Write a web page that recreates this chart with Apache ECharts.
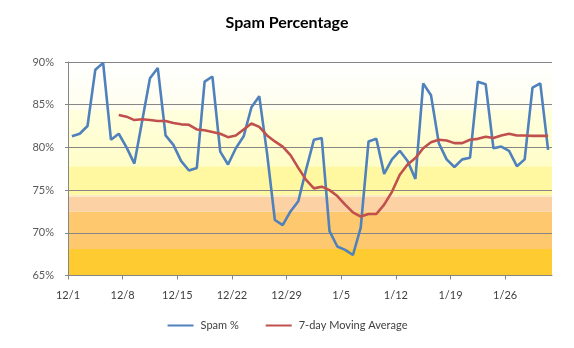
<!DOCTYPE html>
<html>
<head>
<meta charset="utf-8">
<script src="https://cdn.jsdelivr.net/npm/echarts@6/dist/echarts.min.js"></script>
<style>
html,body{margin:0;padding:0;background:#fff;}
#chart{width:574px;height:348px;}
</style>
</head>
<body>
<div id="chart"></div>
<script>
const dates = ['12/1','12/2','12/3','12/4','12/5','12/6','12/7','12/8','12/9','12/10','12/11','12/12','12/13','12/14','12/15','12/16','12/17','12/18','12/19','12/20','12/21','12/22','12/23','12/24','12/25','12/26','12/27','12/28','12/29','12/30','12/31','1/1','1/2','1/3','1/4','1/5','1/6','1/7','1/8','1/9','1/10','1/11','1/12','1/13','1/14','1/15','1/16','1/17','1/18','1/19','1/20','1/21','1/22','1/23','1/24','1/25','1/26','1/27','1/28','1/29','1/30','1/31'];
const tickLabels = ['12/1','12/8','12/15','12/22','12/29','1/5','1/12','1/19','1/26'];
const spam = [81.3,81.6,82.5,89.1,89.9,80.9,81.6,80.0,78.1,83.1,88.1,89.3,81.4,80.3,78.4,77.3,77.6,87.7,88.3,79.5,78.0,79.9,81.3,84.7,86.0,79.3,71.5,70.9,72.5,73.7,77.4,80.9,81.1,70.2,68.4,68.0,67.4,70.6,80.7,81.0,76.9,78.6,79.6,78.4,76.3,87.5,86.1,80.5,78.6,77.7,78.6,78.8,87.7,87.4,79.9,80.1,79.6,77.8,78.6,87.0,87.5,79.7];
const movingAvg = [null,null,null,null,null,null,83.8,83.6,83.2,83.3,83.2,83.1,83.1,82.85,82.7,82.65,82.1,82.0,81.8,81.6,81.2,81.4,82.1,82.8,82.4,81.4,80.7,80.1,79.1,77.6,76.2,75.2,75.4,75.0,74.3,73.3,72.4,71.9,72.2,72.2,73.3,74.8,76.8,78.0,78.75,79.9,80.6,80.9,80.8,80.5,80.5,80.9,81.0,81.25,81.1,81.4,81.6,81.4,81.4,81.35,81.35,81.35];
const bandEdges = [65, 68.1, 72.5, 74.2, 74.45, 77.8, 84.4, 90];
const bandColors = ['#FECB30','#FEC96E','#FCD1A4','#FDEBC6','#FFF8A0',
  {type:'linear',x:0,y:0,x2:0,y2:1,colorStops:[{offset:0,color:'#FFFFDE'},{offset:1,color:'#FFFDC8'}]},
  {type:'linear',x:0,y:0,x2:0,y2:1,colorStops:[{offset:0,color:'#FFFFFF'},{offset:1,color:'#FFFEEE'}]}];

const nDays = dates.length;
const toXY = arr => arr.map((v, i) => [i + 0.5, v]);
const bands = bandColors.map((c, k) => [
  {xAxis: 0, yAxis: bandEdges[k], itemStyle: {color: c}},
  {xAxis: nDays, yAxis: bandEdges[k + 1]}
]);

const font = 'Lato, "Open Sans", sans-serif';
const chart = echarts.init(document.getElementById('chart'), null, {renderer: 'canvas'});
chart.setOption({
  animation: false,
  title: {
    text: 'Spam Percentage', left: 'center', top: 10,
    textStyle: {fontFamily: font, fontSize: 16, fontWeight: 'bold', color: '#000'}
  },
  legend: {
    bottom: 12, left: 'center', itemWidth: 26, itemHeight: 3, itemGap: 26,
    itemStyle: {opacity: 0},
    textStyle: {fontFamily: font, fontSize: 11, color: '#404040', padding: [0, 0, 0, 2]},
    data: ['Spam %', '7-day Moving Average']
  },
  grid: {left: 68, right: 22, top: 62, bottom: 72.5, containLabel: false},
  xAxis: {
    type: 'value', min: 0, max: nDays,
    axisLine: {lineStyle: {color: '#868686', width: 1}},
    axisTick: {show: true, length: 4, customValues: tickLabels.map((_, k) => k * 7), lineStyle: {color: '#868686'}},
    axisLabel: {
      customValues: tickLabels.map((_, k) => k * 7),
      formatter: v => tickLabels[Math.round(v / 7)] || '',
      fontFamily: font, fontSize: 11, color: '#404040', margin: 14
    },
    splitLine: {show: false}
  },
  yAxis: {
    type: 'value', min: 65, max: 90, interval: 5,
    axisLine: {show: true, lineStyle: {color: '#868686'}},
    axisTick: {show: true, length: 3, lineStyle: {color: '#868686'}},
    axisLabel: {formatter: '{value}%', fontFamily: font, fontSize: 11, color: '#595959', margin: 14},
    splitLine: {lineStyle: {color: '#868686', width: 1}}
  },
  series: [
    {
      name: 'bands', type: 'line', data: [], z: -1, silent: true,
      markArea: {silent: true, z: -1, itemStyle: {borderWidth: 0}, data: bands}
    },
    {
      name: 'Spam %', type: 'line', data: toXY(spam), symbol: 'none', z: 3,
      lineStyle: {color: '#4F81BD', width: 2.6}, itemStyle: {color: '#4F81BD'}
    },
    {
      name: '7-day Moving Average', type: 'line', data: toXY(movingAvg), symbol: 'none', z: 4,
      lineStyle: {color: '#C0504D', width: 2.6}, itemStyle: {color: '#C0504D'}
    }
  ]
});
</script>
</body>
</html>
